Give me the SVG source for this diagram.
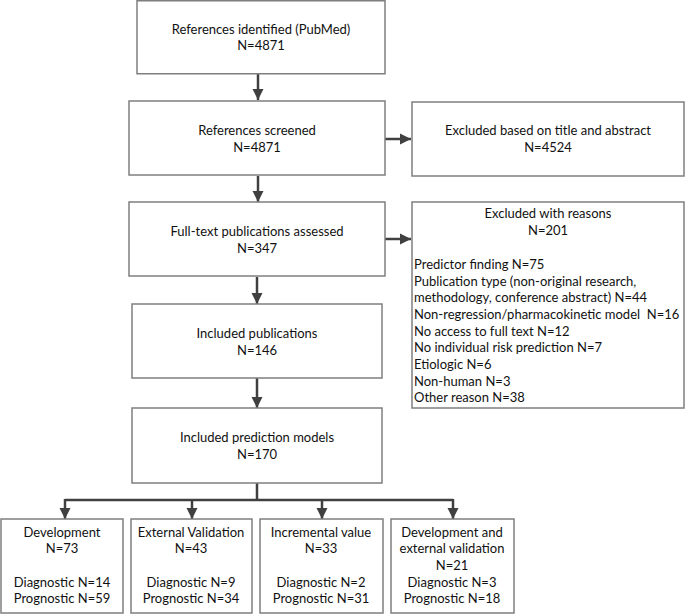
<svg xmlns="http://www.w3.org/2000/svg" width="685" height="614" viewBox="0 0 685 614">
<defs>
<marker id="ah" viewBox="0 0 10 10" refX="10" refY="5" markerWidth="4.6" markerHeight="5" orient="auto" markerUnits="strokeWidth">
<path d="M0,0 L10,5 L0,10 z" fill="#404040"/>
</marker>
</defs>
<style>
.box{fill:#fff;stroke:#7f7f7f;stroke-width:1.5}
.t{font-family:Lato,"Liberation Sans",sans-serif;font-size:13px;fill:#111;text-anchor:middle}
.l{text-anchor:start}
.c{fill:none;stroke:#404040;stroke-width:2.5}
</style>
<rect width="685" height="614" fill="#fff"/>
<g id="connectors">
<line class="c" x1="258" y1="74" x2="258" y2="100" marker-end="url(#ah)"/>
<line class="c" x1="385" y1="139" x2="411" y2="139" marker-end="url(#ah)"/>
<line class="c" x1="258" y1="176" x2="258" y2="202" marker-end="url(#ah)"/>
<line class="c" x1="385" y1="239" x2="411" y2="239" marker-end="url(#ah)"/>
<line class="c" x1="257" y1="277" x2="257" y2="304" marker-end="url(#ah)"/>
<line class="c" x1="257" y1="378" x2="257" y2="408" marker-end="url(#ah)"/>
<path class="c" d="M257,483 V500 M65,500 H453"/>
<line class="c" x1="65" y1="499" x2="65" y2="519" marker-end="url(#ah)"/>
<line class="c" x1="192" y1="500" x2="192" y2="519" marker-end="url(#ah)"/>
<line class="c" x1="322" y1="500" x2="322" y2="519" marker-end="url(#ah)"/>
<line class="c" x1="453" y1="499" x2="453" y2="519" marker-end="url(#ah)"/>
</g>
<g id="identified">
<rect class="box" x="137" y="0.75" width="248" height="73"/>
<text class="t" x="261" y="34">References identified (PubMed)</text>
<text class="t" x="261" y="50">N=4871</text>
</g>
<g id="screened">
<rect class="box" x="129" y="101" width="256" height="74"/>
<text class="t" x="257" y="135">References screened</text>
<text class="t" x="257" y="152">N=4871</text>
</g>
<g id="excluded-title">
<rect class="box" x="412" y="102" width="272" height="74"/>
<text class="t" x="548" y="135">Excluded based on title and abstract</text>
<text class="t" x="548" y="152">N=4524</text>
</g>
<g id="fulltext">
<rect class="box" x="129" y="202" width="256" height="74"/>
<text class="t" x="257" y="236">Full-text publications assessed</text>
<text class="t" x="257" y="253">N=347</text>
</g>
<g id="excluded-reasons">
<rect class="box" x="412" y="202" width="272" height="206"/>
<text class="t" x="548" y="218">Excluded with reasons</text>
<text class="t" x="548" y="235">N=201</text>
<text class="t l" x="414" y="269">Predictor finding N=75</text>
<text class="t l" x="414" y="285.5">Publication type (non-original research,</text>
<text class="t l" x="414" y="302">methodology, conference abstract) N=44</text>
<text class="t l" x="414" y="319" xml:space="preserve">Non-regression/pharmacokinetic model  N=16</text>
<text class="t l" x="414" y="335.5">No access to full text N=12</text>
<text class="t l" x="414" y="352">No individual risk prediction N=7</text>
<text class="t l" x="414" y="369">Etiologic N=6</text>
<text class="t l" x="414" y="385.5">Non-human N=3</text>
<text class="t l" x="414" y="402">Other reason N=38</text>
</g>
<g id="included-pubs">
<rect class="box" x="132" y="304" width="250" height="74"/>
<text class="t" x="257" y="338">Included publications</text>
<text class="t" x="257" y="355">N=146</text>
</g>
<g id="included-models">
<rect class="box" x="132" y="408" width="250" height="75"/>
<text class="t" x="257" y="442">Included prediction models</text>
<text class="t" x="257" y="459">N=170</text>
</g>
<g id="development">
<rect class="box" x="1" y="519" width="122" height="94"/>
<text class="t" x="62" y="537">Development</text>
<text class="t" x="62" y="553">N=73</text>
<text class="t" x="62" y="587">Diagnostic N=14</text>
<text class="t" x="62" y="603">Prognostic N=59</text>
</g>
<g id="external-validation">
<rect class="box" x="131" y="519" width="121" height="94"/>
<text class="t" x="191" y="537">External Validation</text>
<text class="t" x="191" y="553">N=43</text>
<text class="t" x="191" y="587">Diagnostic N=9</text>
<text class="t" x="191" y="603">Prognostic N=34</text>
</g>
<g id="incremental-value">
<rect class="box" x="260" y="519" width="123" height="94"/>
<text class="t" x="321" y="537">Incremental value</text>
<text class="t" x="321" y="553">N=33</text>
<text class="t" x="321" y="587">Diagnostic N=2</text>
<text class="t" x="321" y="603">Prognostic N=31</text>
</g>
<g id="dev-ext-validation">
<rect class="box" x="391" y="519" width="123" height="94"/>
<text class="t" x="452" y="537">Development and</text>
<text class="t" x="452" y="553">external validation</text>
<text class="t" x="452" y="570">N=21</text>
<text class="t" x="452" y="587">Diagnostic N=3</text>
<text class="t" x="452" y="603">Prognostic N=18</text>
</g>
</svg>
